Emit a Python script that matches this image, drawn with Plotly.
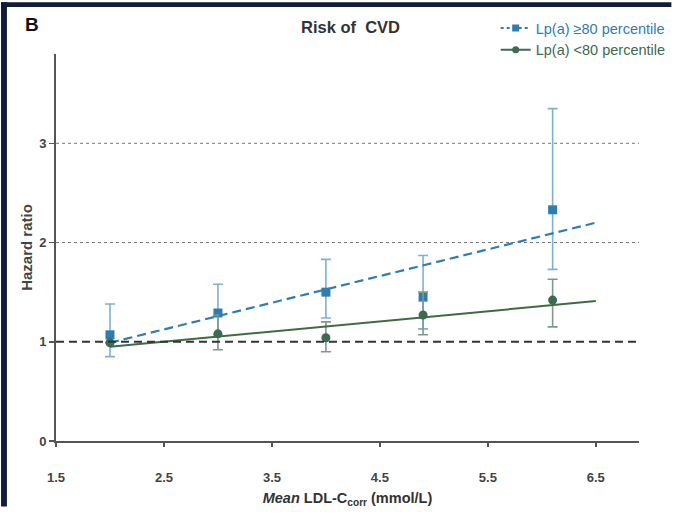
import plotly.graph_objects as go

# ---- data ----
x_high = [2.0, 3.0, 4.0, 4.9, 6.1]
hr_high = [1.07, 1.29, 1.50, 1.45, 2.33]
lo_high = [0.85, 1.07, 1.24, 1.13, 1.73]
up_high = [1.38, 1.58, 1.83, 1.87, 3.35]

x_low = [2.0, 3.0, 4.0, 4.9, 6.1]
hr_low = [0.99, 1.08, 1.04, 1.27, 1.42]
lo_low = [0.99, 0.92, 0.90, 1.07, 1.15]
up_low = [0.99, 1.27, 1.20, 1.50, 1.63]

fit_x = [2.0, 6.5]
fit_high = [0.99, 2.20]
fit_low = [0.95, 1.41]

x_ticks = [1.5, 2.5, 3.5, 4.5, 5.5, 6.5]
y_ticks = [0, 1, 2, 3]
dotted_refs = [2, 3]
dashed_ref = 1

BLUE = "#2f7db0"
BLUE_ERR = "#7fb0d3"
GREEN = "#3e6a50"
GREEN_ERR = "#7f998a"
GREEN_LINE = "#3f6b44"
FONT = "Liberation Sans, Arial, sans-serif"
DARK = "#0e1d3c"

W, H = 683, 516
ML, MR, MT, MB = 56, 33, 53, 67
PW, PH = W - ML - MR, H - MT - MB


def px_x(px):
    return (px - ML) / PW


def px_y(py):
    return (H - MB - py) / PH


fig = go.Figure()

fig.add_trace(go.Scatter(
    x=x_high, y=hr_high, mode="markers",
    marker=dict(symbol="square", size=9, color=BLUE),
    error_y=dict(type="data", symmetric=False,
                 array=[u - v for u, v in zip(up_high, hr_high)],
                 arrayminus=[v - l for v, l in zip(hr_high, lo_high)],
                 color=BLUE_ERR, thickness=1.6, width=5),
    showlegend=False, hoverinfo="skip"))

fig.add_trace(go.Scatter(
    x=x_low, y=hr_low, mode="markers",
    marker=dict(symbol="circle", size=9, color=GREEN),
    error_y=dict(type="data", symmetric=False,
                 array=[u - v for u, v in zip(up_low, hr_low)],
                 arrayminus=[v - l for v, l in zip(hr_low, lo_low)],
                 color=GREEN_ERR, thickness=1.6, width=5),
    showlegend=False, hoverinfo="skip"))

fig.add_trace(go.Scatter(x=fit_x, y=fit_high, mode="lines",
                         line=dict(color=BLUE, width=2.2, dash="9px,5px"),
                         showlegend=False, hoverinfo="skip"))
fig.add_trace(go.Scatter(x=fit_x, y=fit_low, mode="lines",
                         line=dict(color=GREEN_LINE, width=2),
                         showlegend=False, hoverinfo="skip"))

# legend entries
fig.add_trace(go.Scatter(x=[None], y=[None], mode="lines+markers",
                         name=f"<span style='color:{BLUE}'>Lp(a) ≥80 percentile</span>",
                         line=dict(color=BLUE, width=2, dash="dot"),
                         marker=dict(symbol="square", size=7, color=BLUE)))
fig.add_trace(go.Scatter(x=[None], y=[None], mode="lines+markers",
                         name=f"<span style='color:{GREEN}'>Lp(a) &lt;80 percentile</span>",
                         line=dict(color=GREEN, width=2),
                         marker=dict(symbol="circle", size=7, color=GREEN)))

shapes = []
for r in dotted_refs:
    shapes.append(dict(type="line", xref="paper", yref="y", x0=0, x1=1, y0=r, y1=r,
                       line=dict(color="#777777", width=1, dash="dot"), layer="below"))
shapes.append(dict(type="line", xref="paper", yref="y", x0=0, x1=1, y0=dashed_ref, y1=dashed_ref,
                   line=dict(color="#333333", width=2, dash="8px,5px"), layer="above"))
# dark frame bands (left and top), kept inside the figure
shapes.append(dict(type="rect", xref="paper", yref="paper",
                   x0=px_x(0), x1=px_x(6), y0=px_y(H), y1=px_y(0),
                   fillcolor=DARK, line=dict(width=0), layer="below"))
shapes.append(dict(type="rect", xref="paper", yref="paper",
                   x0=px_x(0), x1=px_x(W), y0=px_y(5), y1=px_y(0),
                   fillcolor=DARK, line=dict(width=0), layer="below"))

fig.update_layout(
    width=W, height=H,
    margin=dict(l=ML, r=MR, t=MT, b=MB),
    paper_bgcolor="white", plot_bgcolor="white",
    font=dict(family=FONT, color="#444444", size=12),
    shapes=shapes,
    showlegend=True,
    legend=dict(x=px_x(504), xanchor="left", y=px_y(10), yanchor="top",
                bgcolor="rgba(0,0,0,0)", font=dict(size=14.5, family=FONT),
                itemwidth=30, tracegroupgap=0),
    annotations=[
        dict(text="<b>Risk of  CVD</b>", xref="paper", yref="paper",
             x=px_x(356), y=px_y(25), xanchor="center", yanchor="middle",
             showarrow=False, font=dict(size=16.5, color="#333333", family=FONT)),
        dict(text="<b>B</b>", xref="paper", yref="paper",
             x=px_x(31.5), y=px_y(22.5), xanchor="center", yanchor="middle",
             showarrow=False, font=dict(size=19, color="#111111", family=FONT)),
    ],
    xaxis=dict(range=[1.5, 6.9], tickvals=x_ticks, ticktext=[f"<b>{t}</b>" for t in x_ticks],
               showgrid=False, zeroline=False, showline=True, linecolor="#555555", linewidth=2,
               ticks="outside", ticklen=4, tickwidth=1.5, tickcolor="#555555",
               ticklabelstandoff=19, tickfont=dict(size=13, color="#444444"),
               title=dict(text="<b><i>Mean</i> LDL-C<sub>corr</sub> (mmol/L)</b>",
                          font=dict(size=14.5, color="#333333"), standoff=9)),
    yaxis=dict(range=[0, 3.9], tickvals=y_ticks, ticktext=[f"<b>{t}</b>" for t in y_ticks],
               showgrid=False, zeroline=False, showline=True, linecolor="#555555", linewidth=2,
               ticks="outside", ticklen=5, tickwidth=1.5, tickcolor="#555555",
               tickfont=dict(size=13, color="#444444"),
               title=dict(text="<b>Hazard ratio</b>", font=dict(size=15, color="#444444"),
                          standoff=3)),
)

fig.write_html(
    "out.html",
    config={"displayModeBar": False, "staticPlot": True},
    post_script=("document.documentElement.style.margin='0';"
                 "document.body.style.margin='0';"
                 "document.body.style.overflow='hidden';"
                 "document.documentElement.style.overflow='hidden';"
                 "var d=document.getElementById('{plot_id}');"
                 "d.style.position='fixed';d.style.left='0px';d.style.top='0px';"),
)
